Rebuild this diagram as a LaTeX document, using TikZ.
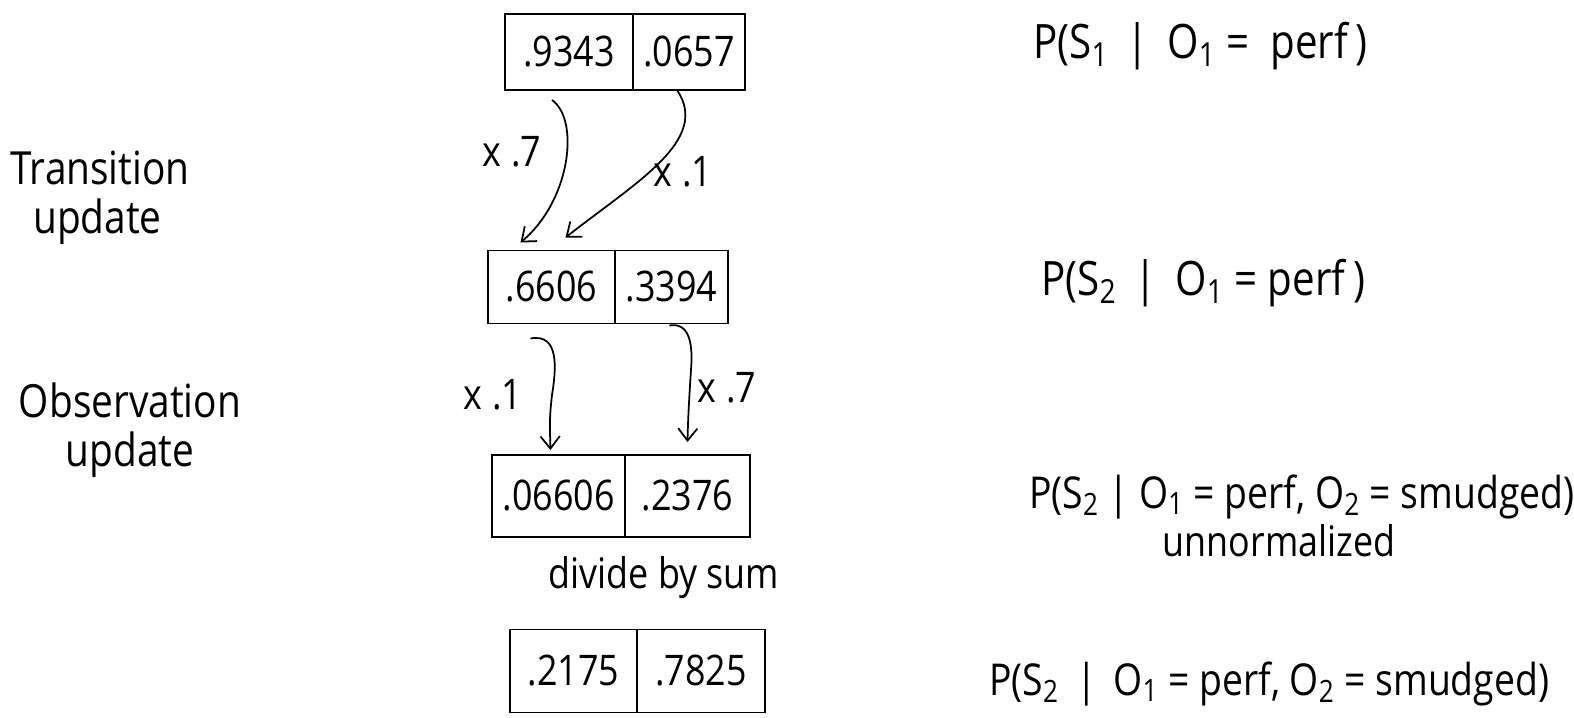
\documentclass[tikz,border=0pt]{standalone}
\usepackage{fontspec}
\setmainfont[FakeStretch=0.85]{Open Sans}
\usetikzlibrary{arrows.meta,calc}
\begin{document}
\begin{tikzpicture}[x=0.02cm,y=-0.02cm,
  ink/.style={line width=1.1pt,black},
  cell/.style={draw,ink,inner sep=0pt,outer sep=0pt,anchor=west,
    font=\fontsize{24}{28}\selectfont},
  flow/.style={ink,line width=1pt,-{Straight Barb[length=7pt,width=11pt]}},
  factor/.style={font=\fontsize{24}{28}\selectfont},
  side/.style={font=\fontsize{26}{28}\selectfont},
  prob/.style={font=\fontsize{27}{32}\selectfont,anchor=base west},
  longprob/.style={prob,font=\fontsize{25}{30}\selectfont},
]
\useasboundingbox (0,0) rectangle (1574,717);

% belief vectors: two cells per row
\node[cell,minimum width=2.56cm,minimum height=1.52cm] (a1) at (505,52) {.9343};
\node[cell,minimum width=2.24cm,minimum height=1.52cm] (a2) at (a1.east) {.0657};

\node[cell,minimum width=2.54cm,minimum height=1.46cm] (b1) at (488,287) {.6606};
\node[cell,minimum width=2.26cm,minimum height=1.46cm] (b2) at (b1.east) {.3394};

\node[cell,minimum width=2.66cm,minimum height=1.64cm] (c1) at (492,496) {.06606};
\node[cell,minimum width=2.50cm,minimum height=1.64cm] (c2) at (c1.east) {.2376};

\node[cell,minimum width=2.54cm,minimum height=1.66cm] (d1) at (510,671) {.2175};
\node[cell,minimum width=2.56cm,minimum height=1.66cm] (d2) at (d1.east) {.7825};

% transition update
\draw[flow] ($(a1.south)+(-17,10)$) .. controls +(28,20) and +(50,-42) .. ($(b1.north)+(-31,-8)$);
\draw[flow] ($(a2.south)+(-12,0)$) .. controls +(34,50) and +(70,-55) .. ($(b1.north)+(14,-13)$);
\node[factor] (t1) at (512,152) {x .7};
\node[factor] (t2) at (683,172) {x .1};

% observation update
\draw[flow] ($(b1.south)+(-21,15)$) .. controls (560,333) and (556,370) .. (552,395)
  .. controls (549,420) and (550,430) .. ($(c1.north)+(-8,-5)$);
\draw[flow] ($(b2.south)+(-2,2)$) .. controls (690,322) and (693,345) .. (691,370)
  .. controls (689,400) and (688,420) .. ($(c2.north)+(0,-13)$);
\node[factor] (o1) at (493,395) {x .1};
\node[factor] (o2) at (727,388) {x .7};

% normalisation
\node[factor] (norm) at (664,578) {divide by sum};

% step names
\node[side,align=left] (trans) at (100,198) {Transition\\\hspace{0.5em}update};
\node[side,align=center] (obs) at (130,430) {Observation\\update};

% distributions
\node[prob] (p1) at (1027,58) {P(S\textsubscript{1} \,|\, O\textsubscript{1} = \ perf\,)};
\node[prob] (p2) at (1035,295) {P(S\textsubscript{2} \,|\, O\textsubscript{1} = perf\,)};
\node[longprob] (p3) at (1023,508) {P(S\textsubscript{2} | O\textsubscript{1} = perf, O\textsubscript{2} = smudged)};
\node[factor] (un) at (1279,541) {unnormalized};
\node[longprob] (p4) at (983,695) {P(S\textsubscript{2} \,|\, O\textsubscript{1} = perf, O\textsubscript{2} = smudged)};
\end{tikzpicture}
\end{document}
